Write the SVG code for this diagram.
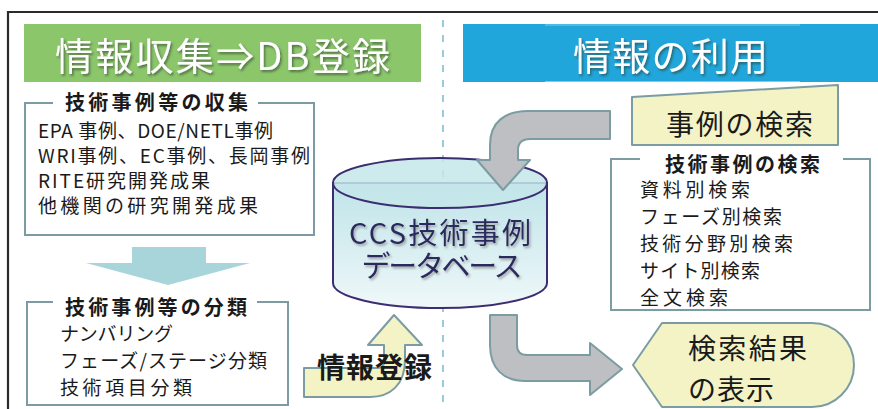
<svg xmlns="http://www.w3.org/2000/svg" width="878" height="409" viewBox="0 0 878 409">
<style>
.t{font-family:"Noto Sans CJK JP","Noto Sans",sans-serif;fill:#1a1a1a}
.b{font-weight:bold}
.frame{fill:none;stroke:#7B9CA2;stroke-width:2}
.gray{fill:#BEBFC3;stroke:#7B9CA2;stroke-width:2;stroke-linejoin:round}
.yel{fill:#F3F3C6;stroke:#7B9CA2;stroke-width:2;stroke-linejoin:round}
.ban{font-family:"Noto Sans CJK JP","Noto Sans",sans-serif;fill:#fff;font-size:38px}
.db{font-family:"Noto Sans CJK JP","Noto Sans",sans-serif;fill:#2C2960;font-size:29px}
</style>
<defs>
<filter id="sh" x="-10%" y="-20%" width="120%" height="150%"><feDropShadow dx="1.5" dy="2" stdDeviation="1" flood-color="#2a3a2a" flood-opacity="0.6"/></filter>
<filter id="sh2" x="-10%" y="-20%" width="120%" height="150%"><feDropShadow dx="1.5" dy="2" stdDeviation="1.2" flood-color="#777" flood-opacity="0.6"/></filter>
<linearGradient id="cyl" x1="0" y1="0" x2="0" y2="1"><stop offset="0" stop-color="#BFE4E9"/><stop offset="1" stop-color="#EFF8F9"/></linearGradient>
</defs>
<rect width="878" height="409" fill="#fff"/>
<!-- outer frame -->
<path d="M878 12 L8 12 L8 409" fill="none" stroke="#2b2b2b" stroke-width="2.2"/>
<!-- divider -->
<line x1="443" y1="20" x2="443" y2="409" stroke="#98CDD5" stroke-width="2" stroke-dasharray="7 8"/>
<!-- banners -->
<g id="banner-left">
<rect x="24" y="24" width="397" height="58" fill="#8CC66B"/>
<text class="ban" x="55" y="70" textLength="335" filter="url(#sh)">情報収集⇒DB登録</text>
</g>
<g id="banner-right">
<rect x="463" y="24" width="415" height="58" fill="#21A6DC"/>
<line x1="545" y1="25" x2="800" y2="25" stroke="#7FCBEA" stroke-width="1"/>
<line x1="545" y1="81.5" x2="800" y2="81.5" stroke="#7FCBEA" stroke-width="1"/>
<text class="ban" x="573" y="70" textLength="195" filter="url(#sh)">情報の利用</text>
</g>
<!-- collection box -->
<g id="collect">
<path class="frame" d="M53 103 L25 103 L25 235 L314 235 L314 103 L258 103"/>
<text class="t b" x="65" y="110" font-size="20" textLength="183">技術事例等の収集</text>
<text class="t" x="38" y="138" font-size="19" textLength="235">EPA 事例、DOE/NETL事例</text>
<text class="t" x="38" y="163" font-size="19" textLength="272">WRI事例、EC事例、長岡事例</text>
<text class="t" x="38" y="188" font-size="19" textLength="172">RITE研究開発成果</text>
<text class="t" x="38" y="213" font-size="19" textLength="220">他機関の研究開発成果</text>
</g>
<!-- classification box -->
<g id="classify">
<path class="frame" d="M53 302 L27 302 L27 405 L288 405 L288 302 L257 302"/>
<text class="t b" x="65" y="315" font-size="20" textLength="182">技術事例等の分類</text>
<text class="t" x="60" y="341" font-size="19" textLength="113">ナンバリング</text>
<text class="t" x="60" y="368" font-size="19" textLength="207">フェーズ/ステージ分類</text>
<text class="t" x="60" y="395" font-size="19" textLength="132">技術項目分類</text>
</g>
<!-- database cylinder -->
<g id="database">
<path d="M333 183 L333 283 A107 25 0 0 0 547 283 L547 183 Z" fill="url(#cyl)" stroke="#3B2D70" stroke-width="2"/>
<ellipse cx="440" cy="183" rx="107" ry="25" fill="#C4E6EA" fill-opacity="0.85" stroke="#3B2D70" stroke-width="2"/>
<text class="db" x="440" y="244" text-anchor="middle" textLength="182" filter="url(#sh2)">CCS技術事例</text>
<text class="db" x="442" y="277" text-anchor="middle" textLength="161" filter="url(#sh2)">データベース</text>
</g>
<!-- search node -->
<g id="search-title">
<path class="yel" d="M632 97 L838 85 L838 145 L632 145 Z"/>
<text class="t" x="666" y="135" font-size="28" textLength="147">事例の検索</text>
</g>
<g id="search-box">
<path class="frame" d="M640 159 L611 159 L611 310 L870 310 L870 159 L843 159"/>
<text class="t b" x="665" y="172" font-size="20" textLength="155">技術事例の検索</text>
<text class="t" x="640" y="197" font-size="19" textLength="110">資料別検索</text>
<text class="t" x="640" y="224" font-size="19" textLength="142">フェーズ別検索</text>
<text class="t" x="640" y="251" font-size="19" textLength="153">技術分野別検索</text>
<text class="t" x="640" y="278" font-size="19" textLength="120">サイト別検索</text>
<text class="t" x="640" y="305" font-size="19" textLength="88">全文検索</text>
</g>
<g id="result">
<path class="yel" d="M633 365 L662 323 L812 323 A42 42 0 0 1 812 407 L662 407 Z"/>
<text class="t" x="688" y="359" font-size="28" textLength="119">検索結果</text>
<text class="t" x="688" y="400" font-size="28" textLength="86">の表示</text>
</g>
<!-- connectors -->
<g id="connectors">
<path d="M132 247 L206 247 L206 263 L250 263 L168 285 L86 263 L132 263 Z" fill="#A7D5DA"/>
<path class="gray" d="M610 111 L528 111 C505 111 490 122 490 145 L490 160 L477 160 L503 190 L530 160 L518 160 L518 150 Q518 139 530 139 L610 139 Z"/>
<path class="gray" d="M490 315 L517 315 L517 345 Q517 355 527 355 L590 355 L590 343 L622 369 L590 395 L590 381 L525 381 C503 381 490 368 490 345 Z"/>
<path class="yel" d="M304 368 L378 368 Q384 368 384 362 L384 345 L368 345 L394 315 L422 345 L405 345 L405 360 C405 385 390 397 370 397 L304 397 Z"/>
<text class="t b" x="317" y="378" font-size="28" textLength="115">情報登録</text>
</g>
</svg>
